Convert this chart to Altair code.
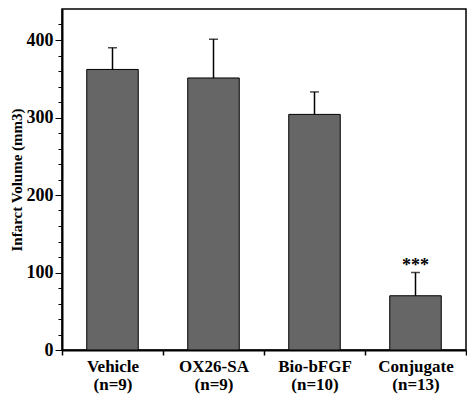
import altair as alt
import pandas as pd

groups = ["Vehicle|(n=9)", "OX26-SA|(n=9)", "Bio-bFGF|(n=10)", "Conjugate|(n=13)"]
means = [362, 351, 304, 70]
upper = [390, 401, 333, 100]
marks = ["", "", "", "***"]
y_ticks = list(range(0, 440, 20))

df = pd.DataFrame({"group": groups, "mean": means, "upper": upper, "sig": marks})

FONT = "Liberation Serif"

x_axis = alt.Axis(
    title=None,
    labelExpr="split(datum.label, '|')",
    labelAngle=0,
    labelFont=FONT,
    labelFontWeight="bold",
    labelFontSize=17,
    labelColor="black",
    labelLineHeight=18,
    labelPadding=3,
    tickBand="extent",
    tickSize=5,
    tickWidth=1.5,
    tickColor="black",
    domainColor="black",
    domainWidth=2,
)
x_scale = alt.Scale(paddingInner=0, paddingOuter=0)

y_axis = alt.Axis(
    title="Infarct Volume (mm3)",
    titleFont=FONT,
    titleFontWeight="bold",
    titleFontSize=15,
    titleColor="black",
    titlePadding=2,
    values=y_ticks,
    labelExpr="datum.value % 100 === 0 ? datum.label : ''",
    labelOverlap=False,
    labelFont=FONT,
    labelFontWeight="bold",
    labelFontSize=18,
    labelColor="black",
    labelPadding=2,
    tickSize={"condition": {"test": "datum.value % 100 === 0", "value": 7}, "value": 4},
    tickWidth=1,
    tickColor="black",
    domainColor="black",
    domainWidth=2,
    grid=False,
)
y_scale = alt.Scale(domain=[0, 440], nice=False)


def xenc():
    return alt.X("group:N", sort=groups, scale=x_scale, axis=x_axis)


def yenc(field):
    return alt.Y(field, type="quantitative", scale=y_scale, axis=y_axis)


bars = alt.Chart(df).mark_bar(
    width=alt.RelativeBandSize(0.51), fill="#666666", stroke="black", strokeWidth=1
).encode(x=xenc(), y=yenc("mean"))

rule = alt.Chart(df).mark_rule(color="black", strokeWidth=1.5).encode(
    x=xenc(), y=yenc("mean"), y2="upper:Q"
)

cap = alt.Chart(df).mark_tick(color="black", thickness=1.5, size=9).encode(
    x=xenc(), y=yenc("upper")
)

stars = alt.Chart(df).mark_text(
    font=FONT, fontWeight="bold", fontSize=18, color="black", baseline="middle", dy=-7
).encode(x=xenc(), y=yenc("upper"), text="sig:N")

chart = alt.layer(bars, rule, cap, stars).properties(
    width=404,
    height=341,
    padding={"left": 54, "top": 1, "right": 1, "bottom": 44},
    autosize=alt.AutoSizeParams(type="none"),
).configure_view(stroke="black", strokeWidth=1.5)

chart.save("out.html", embed_options={"renderer": "svg", "actions": False})
